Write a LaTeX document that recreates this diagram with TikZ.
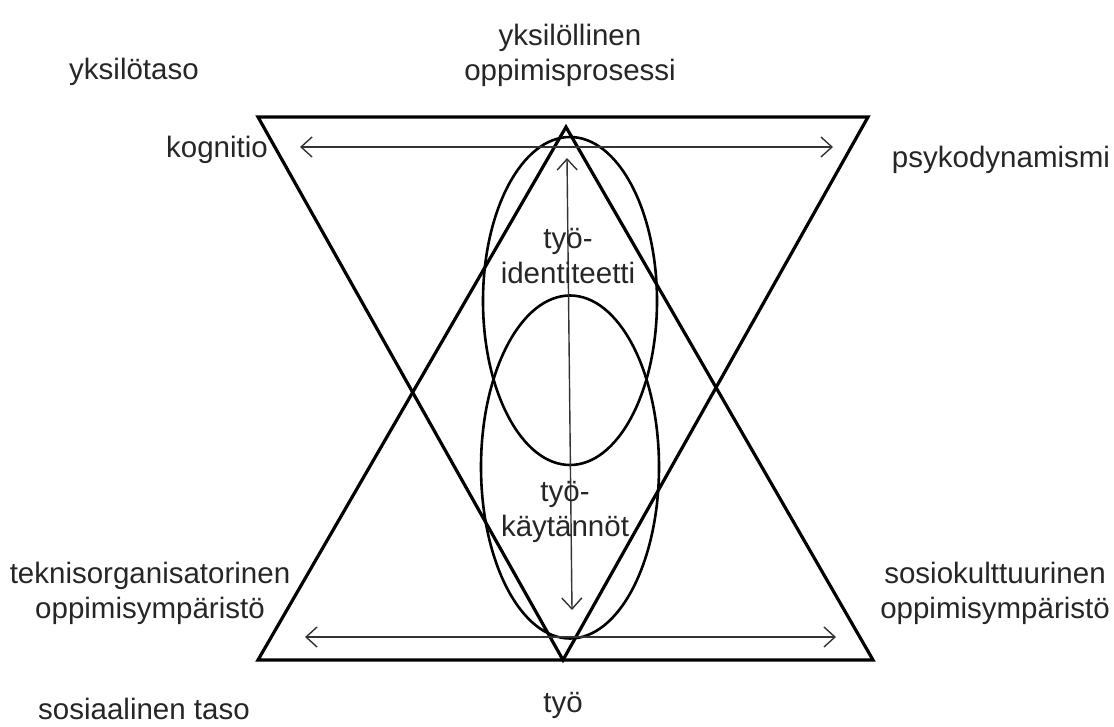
\documentclass[tikz,border=0pt]{standalone}
\usepackage{fontspec}
\setmainfont{Liberation Sans}
\usetikzlibrary{arrows.meta,shapes.geometric}
\begin{document}
\begin{tikzpicture}[x=1pt,y=-1pt,
  tri/.style={line width=3.2pt, line join=miter},
  ell/.style={ellipse, draw, line width=2.6pt, inner sep=0pt},
  dbl/.style={{Straight Barb[length=11pt,width=20pt]}-{Straight Barb[length=11pt,width=20pt]}, line width=1.4pt, draw=black!80},
  lbl/.style={font=\fontsize{29.5}{35}\selectfont, text=black!85, align=center, inner sep=0pt}]
\useasboundingbox (0,0) rectangle (1114,727);
% triangles
\coordinate (TL) at (258,117);
\coordinate (TR) at (868,117);
\coordinate (BA) at (563,660);
\coordinate (BL) at (258,660);
\coordinate (BR) at (873,660);
\coordinate (TA) at (566,127);
\draw[tri] (TL) -- (TR) -- (BA) -- cycle;
\draw[tri] (BL) -- (BR) -- (TA) -- cycle;
% ellipses
\node[ell, minimum width=174pt, minimum height=328pt] (e1) at (570,301) {};
\node[ell, minimum width=178pt, minimum height=343pt] (e2) at (570,467) {};
% arrows
\coordinate (a1l) at (300,147);
\coordinate (a1r) at (833,147);
\coordinate (a2l) at (305,637);
\coordinate (a2r) at (836,637);
\coordinate (vt) at (567,158);
\coordinate (vb) at (572,610);
\draw[dbl] (a1l) -- (a1r);
\draw[dbl] (a2l) -- (a2r);
\draw[dbl] (vt) -- (vb);
% labels
\node[lbl] (yt) at (134,72) {yksilötaso};
\node[lbl] (yop) at (570,55) {yksilöllinen\\oppimisprosessi};
\node[lbl] (kog) at (217,150) {kognitio};
\node[lbl] (psy) at (1001,160) {psykodynamismi};
\node[lbl] (tid) at (568,256) {työ-\\identiteetti};
\node[lbl] (tka) at (565,512) {työ-\\käytännöt};
\node[lbl] (tek) at (150,593) {teknisorganisatorinen\\oppimisympäristö};
\node[lbl] (sos) at (995,593) {sosiokulttuurinen\\oppimisympäristö};
\node[lbl] (tyo) at (563,705) {työ};
\node[lbl] (sta) at (144,709) {sosiaalinen taso};
\end{tikzpicture}
\end{document}
